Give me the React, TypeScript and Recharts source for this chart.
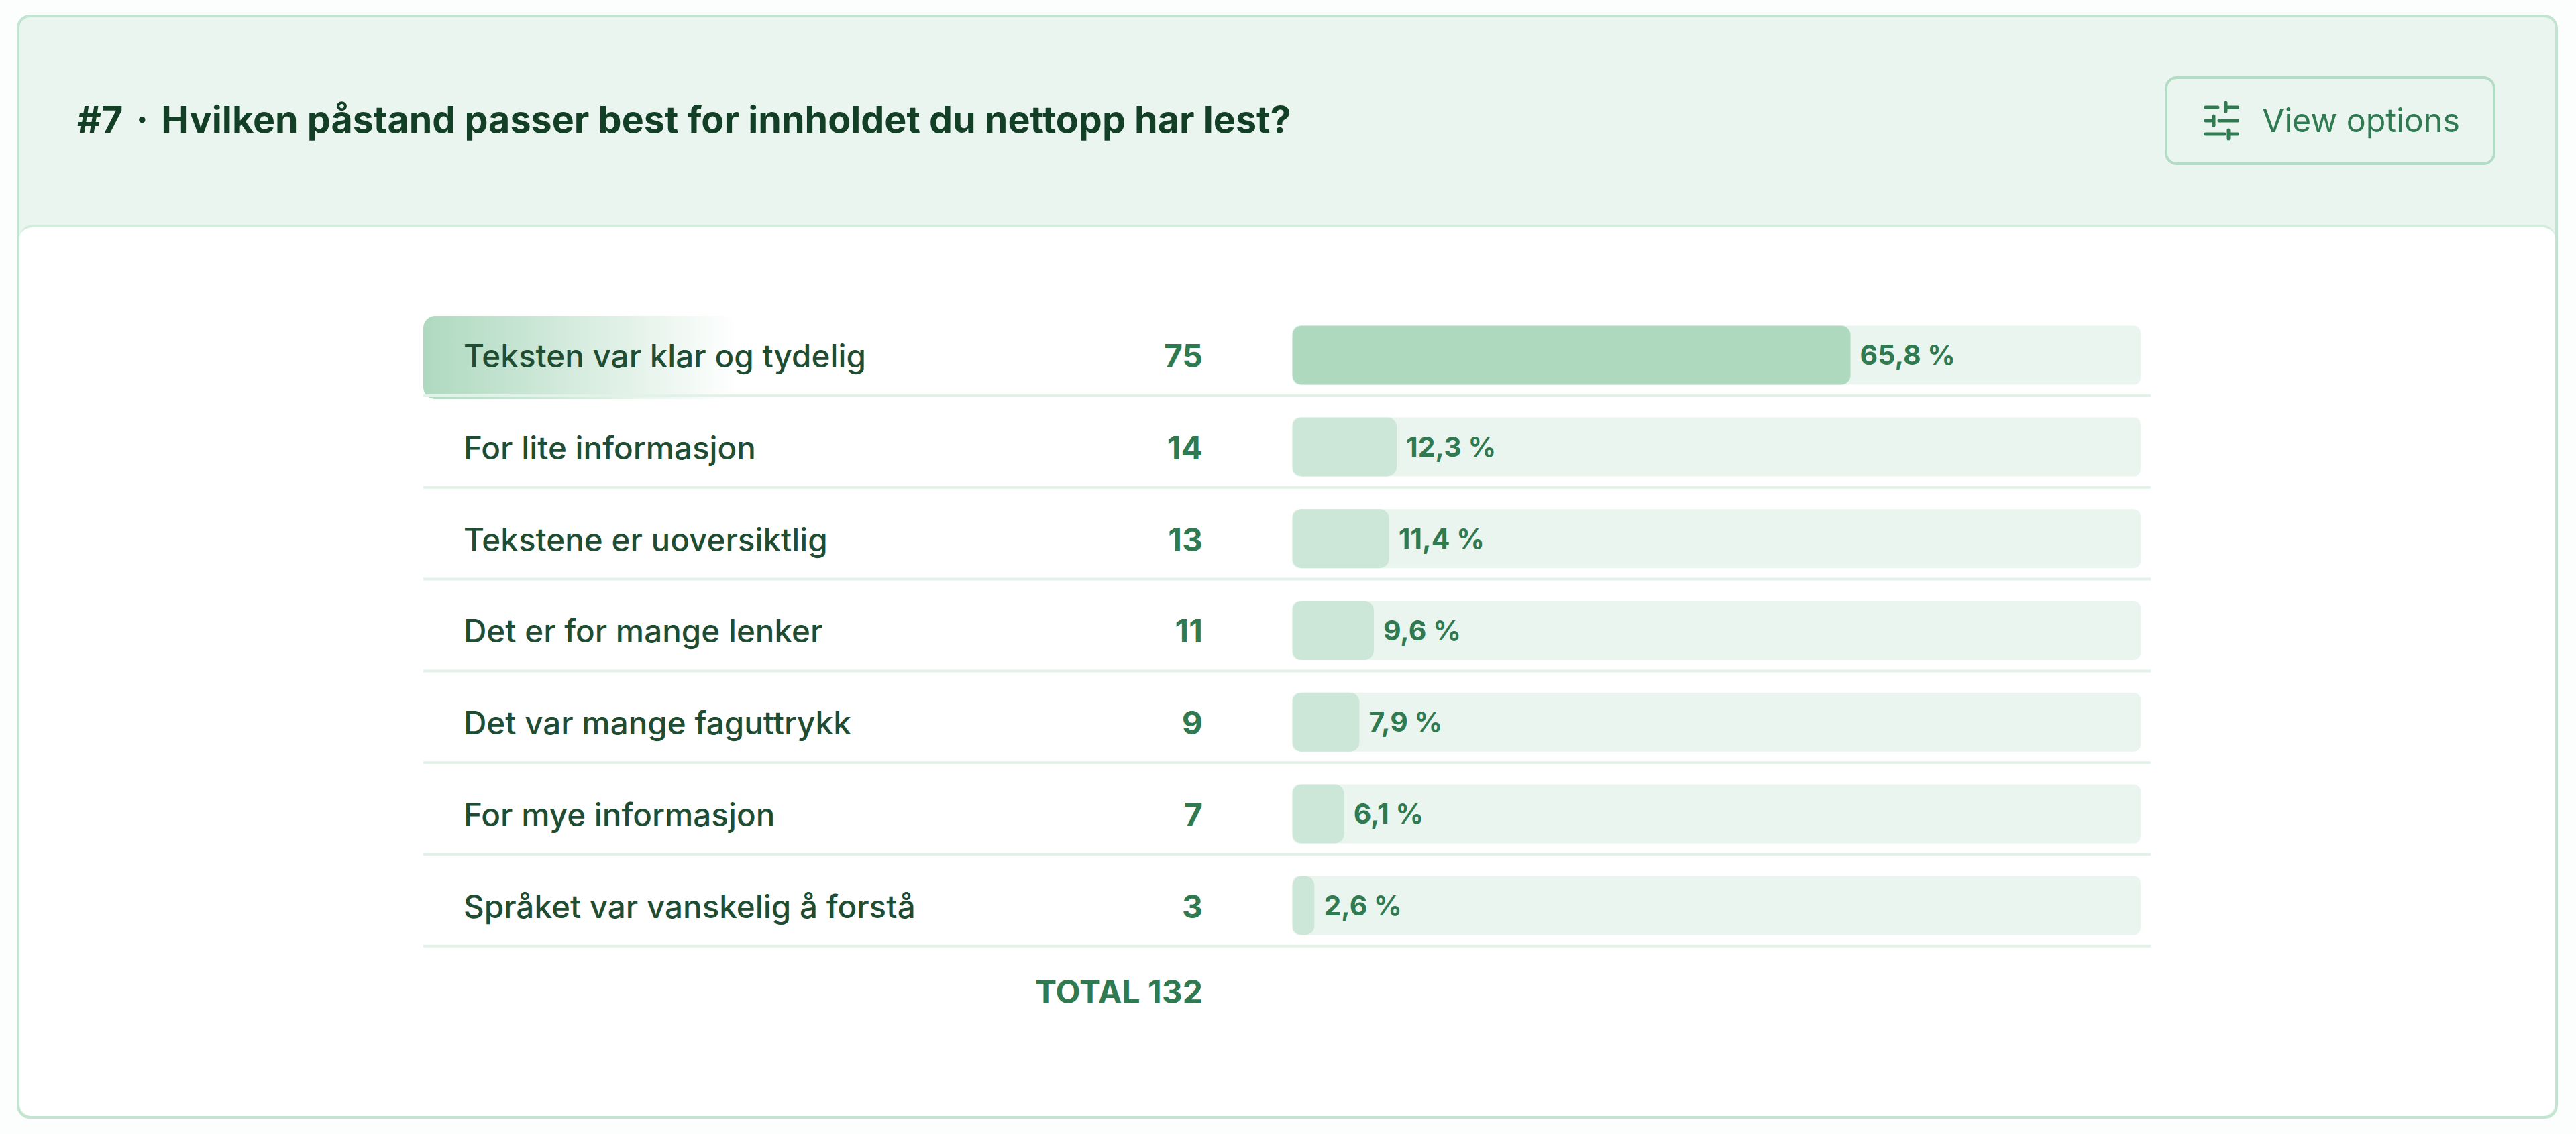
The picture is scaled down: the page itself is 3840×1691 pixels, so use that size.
// App.tsx
import React from 'react';
import { BarChart, Bar, Cell, XAxis, YAxis, LabelList } from 'recharts';

const categories = [
  'Teksten var klar og tydelig',
  'For lite informasjon',
  'Tekstene er uoversiktlig',
  'Det er for mange lenker',
  'Det var mange faguttrykk',
  'For mye informasjon',
  'Språket var vanskelig å forstå',
];
const counts = [75, 14, 13, 11, 9, 7, 3];
const percents = [65.8, 12.3, 11.4, 9.6, 7.9, 6.1, 2.6];
const totalLabel = 'TOTAL 132';
const titleNumber = '#7';
const title = 'Hvilken påstand passer best for innholdet du nettopp har lest?';

const data = categories.map((name, i) => ({ name, count: counts[i], percent: percents[i] }));

const FONT = 'Inter, sans-serif';
const DARK = '#123f26';
const LABEL = '#1f4d34';
const GREEN = '#2f7a50';
const BORDER = '#c3e4d1';
const PALE = '#ebf5ef';
const LINE = '#e3f2e9';

const ROW_PITCH = 136.8;
const ROWS_TOP = 461.6;
const PLOT_LEFT = 1926.5;
const PLOT_RIGHT = 3191;

// label, count and separator all hang off the category tick
function RowTick({ y, index, payload }: any) {
  return (
    <g>
      {index === 0 && (
        <rect x={631} y={y - 59} width={470} height={124} rx={18} fill="url(#rowGlow)" />
      )}
      <text x={691} y={y} dy={18} fontFamily={FONT} fontSize={47.6} fontWeight={500} fill={LABEL}>
        {payload.value}
      </text>
      <text x={1793} y={y} dy={18} textAnchor="end" fontFamily={FONT} fontSize={48} fontWeight={700} fill={GREEN}>
        {counts[index]}
      </text>
      <line x1={631} x2={3206} y1={y + 60} y2={y + 60} stroke={LINE} strokeWidth={4} />
    </g>
  );
}

function SlidersIcon() {
  return (
    <svg width={54} height={60} viewBox="0 0 54 60" style={{ position: 'absolute', left: 3284, top: 150 }}>
      <g stroke={GREEN} strokeWidth={5} strokeLinecap="round" fill="none">
        <path d="M4 10H22M34 10H52M34 3V16" />
        <path d="M4 30H12M16 23V37M24 30H52" />
        <path d="M4 50H32M38 50H52M38 44V57" />
      </g>
    </svg>
  );
}

export default function App() {
  return (
    <div style={{ position: 'absolute', left: 0, top: 0, width: 3840, height: 1691, background: '#fbfefc', fontFamily: FONT, overflow: 'hidden' }}>
      {/* Card */}
      <div style={{ position: 'absolute', left: 25, top: 22, width: 3780, height: 1638, background: PALE, border: `4px solid ${BORDER}`, borderRadius: 20 }} />
      <div style={{ position: 'absolute', left: 29, top: 335, width: 3780, height: 1325, background: '#fff', borderTop: `4px solid #d3ebdd`, borderRadius: 20 }} />

      <div style={{ position: 'absolute', left: 115, top: 146, fontSize: 55.6, lineHeight: '64px', fontWeight: 700, color: DARK, whiteSpace: 'pre' }}>
        {titleNumber} <span style={{ margin: '0 6px' }}>·</span> {title}
      </div>

      {/* Button */}
      <div style={{ position: 'absolute', left: 3227, top: 114, width: 485, height: 124, border: `4px solid #b3dcc4`, borderRadius: 18 }} />
      <SlidersIcon />
      <div style={{ position: 'absolute', left: 3372, top: 150, fontSize: 48.4, lineHeight: '60px', color: GREEN }}>View options</div>

      {/* Chart */}
      <div style={{ position: 'absolute', left: 0, top: 0 }}>
        <BarChart
          width={3840}
          height={1691}
          layout="vertical"
          data={data}
          barSize={88}
          margin={{ left: 600, right: 3840 - PLOT_RIGHT, top: ROWS_TOP, bottom: 1691 - ROWS_TOP - ROW_PITCH * categories.length }}
        >
          <defs>
            <linearGradient id="rowGlow" x1="0" x2="1" y1="0" y2="0">
              <stop offset="0%" stopColor="#aed9bf" />
              <stop offset="100%" stopColor="#aed9bf" stopOpacity={0} />
            </linearGradient>
          </defs>
          <XAxis type="number" domain={[0, 100]} hide />
          <YAxis
            type="category"
            dataKey="name"
            width={PLOT_LEFT - 600}
            axisLine={false}
            tickLine={false}
            interval={0}
            tick={(props: any) => <RowTick {...props} />}
          />
          <Bar
            dataKey="percent"
            radius={14}
            background={{ fill: PALE, radius: 10 }}
            isAnimationActive={false}
          >
            {data.map((d, i) => (
              <Cell key={d.name} fill={i === 0 ? '#aed9bf' : '#cce6d7'} />
            ))}
            <LabelList
              dataKey="percent"
              position="right"
              offset={14}
              formatter={(v: number) => `${String(v).replace('.', ',')} %`}
              style={{ fontFamily: FONT, fontSize: 41, fontWeight: 700, fill: GREEN }}
            />
          </Bar>
        </BarChart>
      </div>

      <div style={{ position: 'absolute', right: 3840 - 1793, top: 1450, fontSize: 48, lineHeight: '58px', fontWeight: 700, color: GREEN }}>
        {totalLabel}
      </div>
    </div>
  );
}
